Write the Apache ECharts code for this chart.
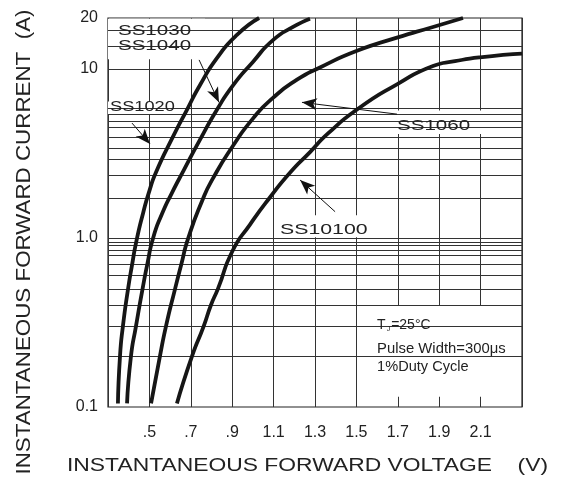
<!DOCTYPE html>
<html><head><meta charset="utf-8">
<script src="https://cdn.jsdelivr.net/npm/echarts@6/dist/echarts.min.js"></script>
<style>html,body{margin:0;padding:0;background:#fff}#c{width:566px;height:480px}</style>
</head><body><div id="c"></div>
<script>
// ---- data (forward voltage V, forward current A) ----
const ss1020 = [[0.348,0.105],[0.358,0.2],[0.372,0.3],[0.397,0.5],[0.416,0.69],[0.437,0.955],[0.47,1.41],[0.50,1.9],[0.532,2.45],[0.614,3.97],[0.682,5.75],[0.744,8.0],[0.827,11.6],[0.923,15.9],[1.03,20]];
const ss1030_1040 = [[0.392,0.105],[0.411,0.2],[0.435,0.3],[0.467,0.5],[0.49,0.7],[0.518,1.0],[0.56,1.38],[0.609,1.85],[0.665,2.5],[0.744,3.8],[0.827,5.75],[0.904,8.0],[1.0,11.0],[1.097,14.8],[1.194,17.7],[1.276,19.8]];
const ss1060 = [[0.508,0.105],[0.551,0.2],[0.58,0.3],[0.624,0.5],[0.653,0.69],[0.688,1.0],[0.754,1.65],[0.807,2.25],[0.904,3.51],[1.0,5.08],[1.097,6.74],[1.213,8.63],[1.324,10.2],[1.503,12.8],[1.696,15.3],[1.87,17.7],[2.015,20]];
const ss10100 = [[0.633,0.105],[0.706,0.2],[0.762,0.3],[0.797,0.4],[0.831,0.5],[0.902,0.84],[0.986,1.2],[1.083,1.74],[1.179,2.43],[1.276,3.22],[1.363,4.15],[1.503,5.75],[1.696,8.1],[1.87,10.4],[1.976,11.1],[2.097,11.7],[2.3,12.3]];
// horizontal grid line values (A) as drawn in the reference
const hGrid = [0.2,0.3,0.4,0.5,0.6,0.7,0.79,0.84,0.9,0.94,1.0,1.72,2.34,2.92,3.38,3.92,4.49,4.9,5.4,5.88,10,13.7,16.9];
const xMin = 0.3, xMax = 2.3, xStep = 0.2;
const yMin = 0.1, yMax = 20;
const xTitle = 'INSTANTANEOUS FORWARD VOLTAGE    (V)';
const yTitle = 'INSTANTANEOUS FORWARD CURRENT  (A)';

// ---- annotations (data coordinates) ----
const arrows = [
  [[0.416,4.78],[0.503,3.60]],
  [[0.740,11.3],[0.836,6.34]],
  [[1.696,5.40],[1.237,6.34]],
  [[1.397,1.43],[1.228,2.20]]
];
const boxes = [
  [0.3,19.8,0.769,11.4],
  [0.3,6.42,0.638,5.40],
  [1.686,5.67,2.145,4.12],
  [1.116,1.36,1.575,1.01],
  [1.532,0.398,2.228,0.115]
];
const labels = [
  {text:'SS1030', at:[0.348,16.9], size:15, sx:1.37},
  {text:'SS1040', at:[0.348,13.7], size:15, sx:1.37},
  {text:'SS1020', at:[0.31,5.96], size:14, sx:1.3},
  {text:'SS1060', at:[1.696,4.61], size:15, sx:1.37},
  {text:'SS10100', at:[1.131,1.117], size:15, sx:1.42},
  {text:'T{s|J}=25°C', at:[1.60,0.304], size:14, sx:1.0},
  {text:'Pulse Width=300μs', at:[1.60,0.221], size:14, sx:1.06},
  {text:'1%Duty Cycle', at:[1.60,0.172], size:14, sx:1.04}
];

const FONT = '"Liberation Sans", Arial, sans-serif';
const chart = echarts.init(document.getElementById('c'));
const curve = (name, data) => ({
  name, type:'line', data, smooth:0.6, showSymbol:false,
  lineStyle:{color:'#161616', width:3.8}, z:5, silent:true
});
chart.setOption({
  animation:false,
  backgroundColor:'#fff',
  grid:{left:108, right:44, top:18, bottom:73, show:true, borderColor:'#222', borderWidth:1.2},
  xAxis:{
    type:'value', min:xMin, max:xMax, interval:xStep,
    axisLine:{show:false}, axisTick:{show:false},
    splitLine:{show:true, lineStyle:{color:'#333', width:1}},
    axisLabel:{margin:18, fontSize:16, color:'#222', fontFamily:FONT,
      formatter:v => (Math.abs(v-xMin)<1e-6 || Math.abs(v-xMax)<1e-6) ? '' : (v<1 ? v.toFixed(1).replace(/^0/,'') : v.toFixed(1))}
  },
  yAxis:{
    type:'log', logBase:10, min:yMin, max:yMax,
    axisLine:{show:false}, axisTick:{show:false},
    splitLine:{show:false}, minorSplitLine:{show:false},
    axisLabel:{margin:10, fontSize:16, color:'#222', fontFamily:FONT,
      formatter:v => v>=10 ? String(Math.round(v)) : v.toFixed(1)}
  },
  series:[
    {type:'line', data:[], z:2, silent:true,
     markLine:{silent:true, animation:false, symbol:['none','none'], label:{show:false},
       lineStyle:{color:'#333', width:1, type:'solid'}, data:hGrid.map(v => ({yAxis:v}))}},
    curve('SS1020', ss1020),
    curve('SS1030/SS1040', ss1030_1040),
    curve('SS1060', ss1060),
    curve('SS10100', ss10100),
    {type:'line', data:[], z:6, silent:true,
     markLine:{silent:true, animation:false, symbol:['none','arrow'], symbolSize:[9,15], label:{show:false},
       lineStyle:{color:'#111', width:1, type:'solid'},
       data:arrows.map(a => [{coord:a[0]},{coord:a[1]}])}}
  ]
});

// measure text to stretch titles to the reference's letter-spaced width
const ctx = document.createElement('canvas').getContext('2d');
const measure = (t, f) => { ctx.font = f; return ctx.measureText(t).width; };

const px = p => chart.convertToPixel({gridIndex:0}, p);
const g = [];
boxes.forEach(b => {
  const a = px([b[0],b[1]]), c = px([b[2],b[3]]);
  g.push({type:'rect', z:3, silent:true,
    shape:{x:Math.min(a[0],c[0]), y:Math.min(a[1],c[1]), width:Math.abs(c[0]-a[0]), height:Math.abs(c[1]-a[1])},
    style:{fill:'#fff'}});
});
labels.forEach(l => {
  const p = px(l.at);
  g.push({type:'text', z:7, silent:true, x:p[0], y:p[1], scaleX:l.sx,
    style:{text:l.text, fill:'#222', font:l.size+'px '+FONT, textAlign:'left', textVerticalAlign:'middle',
      rich:{s:{fontSize:7, fontFamily:FONT, fill:'#222', verticalAlign:'bottom', padding:[6,1,0,1]}}}});
});
// axis titles
const xf = '18.5px ' + FONT, yf = '21px ' + FONT;
const xs = 481 / measure(xTitle, xf), ys = 465 / measure(yTitle, yf);
g.push({type:'text', z:7, silent:true, x:307.5, y:465.5, scaleX:xs,
  style:{text:xTitle, fill:'#222', font:xf, textAlign:'center', textVerticalAlign:'middle'}});
g.push({type:'text', z:7, silent:true, x:24.5, y:242, rotation:Math.PI/2, scaleX:ys,
  style:{text:yTitle, fill:'#222', font:yf, textAlign:'center', textVerticalAlign:'middle'}});
chart.setOption({graphic:g});
</script>
</body></html>
